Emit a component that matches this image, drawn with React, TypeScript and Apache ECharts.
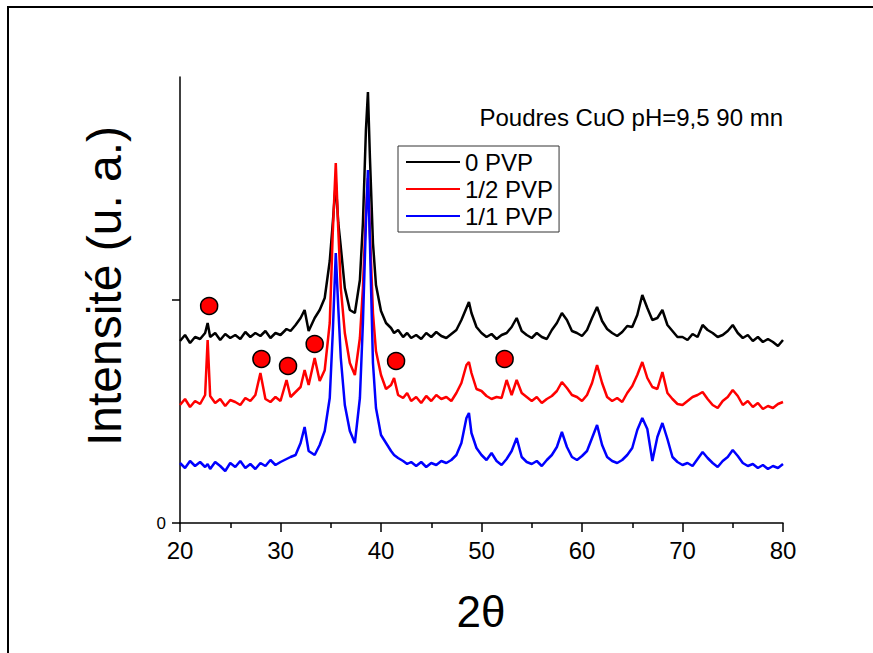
import { useEffect, useRef } from "react";
import * as echarts from "echarts";

const FONT = '"Liberation Sans", Arial, Helvetica, sans-serif';

// 2θ positions shared by the three patterns
const twoTheta = [
  20, 20.5, 21, 21.5, 22, 22.5,
  22.75, 23, 23.5, 24, 24.5, 25,
  25.5, 26, 26.5, 27, 27.5, 28,
  28.5, 29, 29.5, 30, 30.6, 31,
  31.5, 32, 32.4, 32.8, 33.4, 33.9,
  34.4, 34.9, 35.2, 35.5, 35.75, 36,
  36.4, 36.9, 37.4, 37.9, 38.2, 38.5,
  38.7, 38.9, 39.2, 39.5, 40, 40.5,
  41, 41.3, 41.7, 42.2, 42.6, 43,
  43.5, 44, 44.5, 45, 45.5, 46,
  46.5, 47, 47.5, 48, 48.5, 48.75,
  49, 49.5, 50, 50.5, 51, 51.5,
  52, 52.5, 53, 53.5, 54, 54.5,
  55, 55.5, 56, 56.5, 57, 57.5,
  58, 58.5, 59, 59.5, 60, 60.5,
  61, 61.5, 62, 62.5, 63, 63.5,
  64, 64.5, 65, 65.5, 66, 66.5,
  67, 67.5, 68, 68.5, 69, 69.5,
  70, 70.5, 71, 71.5, 72, 72.5,
  73, 73.5, 74, 74.5, 75, 75.5,
  76, 76.5, 77, 77.5, 78, 78.5,
  79, 79.5, 80,
];

// intensities (a.u.), offset stacked as in the figure
const pvp0 = [
  182, 188, 180, 186, 184, 190,
  200, 186, 190, 183, 189, 185,
  188, 184, 191, 186, 190, 187,
  192, 185, 190, 188, 194, 192,
  198, 205, 213, 192, 205, 213,
  225, 262, 300, 341, 300, 276,
  235, 213, 210, 243, 300, 393,
  431, 365, 280, 238, 212, 200,
  195, 190, 193, 186, 190, 185,
  188, 184, 190, 186, 191, 187,
  185, 189, 193, 203, 215, 221,
  210, 196, 190, 186, 189, 184,
  188, 190, 196, 205, 192, 188,
  185, 190, 186, 184, 193, 200,
  210, 203, 192, 190, 187, 193,
  205, 216, 202, 194, 190, 187,
  191, 197, 196, 208, 228, 215,
  203, 205, 213, 198, 192, 186,
  186, 183, 189, 186, 198, 193,
  190, 186, 188, 192, 198, 190,
  185, 188, 182, 186, 181, 184,
  181, 177, 183,
];

const pvpHalf = [
  118, 124, 116, 122, 119, 128,
  183, 127, 120, 124, 117, 123,
  121, 118, 125, 122, 128, 150,
  124, 121, 126, 122, 143, 126,
  131, 136, 153, 138, 165, 142,
  153, 200, 290, 360, 293, 235,
  190, 160, 148, 185, 235, 310,
  345, 290, 210, 172, 148, 134,
  138, 145, 128, 125, 130, 122,
  126, 120, 127, 122, 128, 124,
  126, 122, 130, 140, 158, 161,
  150, 134, 132, 127, 124, 126,
  125, 143, 128, 143, 130, 126,
  122, 126, 120, 124, 127, 132,
  141, 135, 128, 126, 122, 128,
  140, 158, 140, 126, 122, 125,
  121, 130, 137, 148, 161, 145,
  136, 134, 151, 130, 124, 119,
  118, 122, 126, 128, 131, 124,
  118, 115, 122, 126, 133, 127,
  118, 122, 116, 120, 114, 117,
  115, 119, 121,
];

const pvpFull = [
  60, 55, 62, 57, 61, 56,
  59, 54, 61, 57, 52, 60,
  56, 62, 55, 59, 54, 60,
  57, 63, 58, 61, 64, 66,
  68, 80, 96, 72, 68, 78,
  92, 125, 190, 270, 215, 165,
  118, 92, 80, 125, 200, 300,
  353, 280, 160, 115, 88, 80,
  72, 68, 65, 62, 59, 61,
  57, 61, 56, 60, 58, 62,
  60, 63, 68, 80, 105, 110,
  90, 75, 68, 63, 70, 62,
  58, 64, 72, 85, 66, 61,
  59, 62, 57, 63, 68, 76,
  91, 76, 66, 63, 67, 72,
  85, 98, 78, 66, 62, 60,
  63, 68, 75, 93, 105, 94,
  62, 86, 100, 84, 66, 61,
  58, 60, 57, 64, 71, 65,
  60, 56, 62, 66, 73, 67,
  60, 57, 59, 55, 58, 54,
  57, 55, 59,
];

// red dots marking the extra phase
const markX = [22.9, 28.1, 30.75, 33.4, 41.5, 52.3];
const markY = [217, 164, 157, 179, 162, 164];

const seriesNames = ["0 PVP", "1/2 PVP", "1/1 PVP"];
const seriesColors = ["#000000", "#ff0000", "#0000ff"];

export default function App() {
  const ref = useRef<HTMLDivElement>(null);

  useEffect(() => {
    const el = ref.current;
    if (!el) return;
    const chart = echarts.init(el, undefined, { renderer: "svg" });
    const patterns = [pvp0, pvpHalf, pvpFull];
    const axisLine = { show: true, lineStyle: { color: "#000", width: 1.5 } };

    chart.setOption({
      animation: false,
      backgroundColor: "#fff",
      grid: { left: 180, right: 90, top: 77, bottom: 130 },
      legend: {
        data: seriesNames,
        orient: "vertical",
        left: 398,
        top: 146,
        icon: "rect",
        itemWidth: 54,
        itemHeight: 2,
        itemGap: 3,
        padding: [4, 6, 4, 8],
        borderColor: "#333",
        borderWidth: 1,
        selectedMode: false,
        textStyle: { fontSize: 24, fontFamily: FONT, color: "#000" },
      },
      xAxis: {
        type: "value",
        min: 20,
        max: 80,
        interval: 10,
        axisLine,
        axisTick: { show: true, length: 9, lineStyle: { color: "#000", width: 1.5 } },
        minorTick: { show: true, splitNumber: 2, length: 5, lineStyle: { color: "#000", width: 1.5 } },
        axisLabel: { fontSize: 24, fontFamily: FONT, color: "#000", margin: 15 },
        splitLine: { show: false },
        minorSplitLine: { show: false },
      },
      yAxis: {
        type: "value",
        min: 0,
        max: 446,
        interval: 223,
        axisLine,
        axisTick: { show: true, length: 8, customValues: [0, 223], lineStyle: { color: "#000", width: 1.5 } },
        axisLabel: {
          customValues: [0],
          formatter: (v: number) => (v === 0 ? "0" : ""),
          fontSize: 17,
          fontFamily: FONT,
          color: "#000",
          margin: 14,
        },
        splitLine: { show: false },
      },
      graphic: [
        {
          type: "rect",
          silent: true,
          shape: { x: 8, y: 7, width: 1000, height: 1000 },
          style: { fill: "none", stroke: "#000", lineWidth: 2 },
        },
        {
          type: "text",
          x: 104,
          y: 286,
          rotation: Math.PI / 2,
          style: {
            text: "Intensité (u. a.)",
            font: `48px ${FONT}`,
            fill: "#000",
            align: "center",
            verticalAlign: "middle",
            textAlign: "center",
            textVerticalAlign: "middle",
          },
        },
        {
          type: "text",
          x: 783,
          y: 117,
          style: {
            text: "Poudres CuO pH=9,5 90 mn",
            font: `24px ${FONT}`,
            fill: "#000",
            align: "right",
            verticalAlign: "middle",
            textAlign: "right",
            textVerticalAlign: "middle",
          },
        },
        {
          type: "text",
          x: 481,
          y: 611,
          style: {
            text: "2θ",
            font: `44px ${FONT}`,
            fill: "#000",
            align: "center",
            verticalAlign: "middle",
            textAlign: "center",
            textVerticalAlign: "middle",
          },
        },
      ],
      series: [
        ...patterns.map((ys, k) => ({
          name: seriesNames[k],
          type: "line",
          data: twoTheta.map((x, i) => [x, ys[i]]),
          symbol: "none",
          lineStyle: { color: seriesColors[k], width: 2.5 },
          itemStyle: { color: seriesColors[k] },
          z: 2 + k,
        })),
        {
          name: "phase",
          type: "scatter",
          data: markX.map((x, i) => [x, markY[i]]),
          symbol: "circle",
          symbolSize: 17,
          itemStyle: { color: "#ff0000", borderColor: "#000", borderWidth: 1.5, opacity: 1 },
          z: 10,
        },
      ],
    });

    return () => {
      chart.dispose();
    };
  }, []);

  return (
    <div
      ref={ref}
      style={{ position: "absolute", left: 0, top: 0, width: 873, height: 653, background: "#fff" }}
    />
  );
}
